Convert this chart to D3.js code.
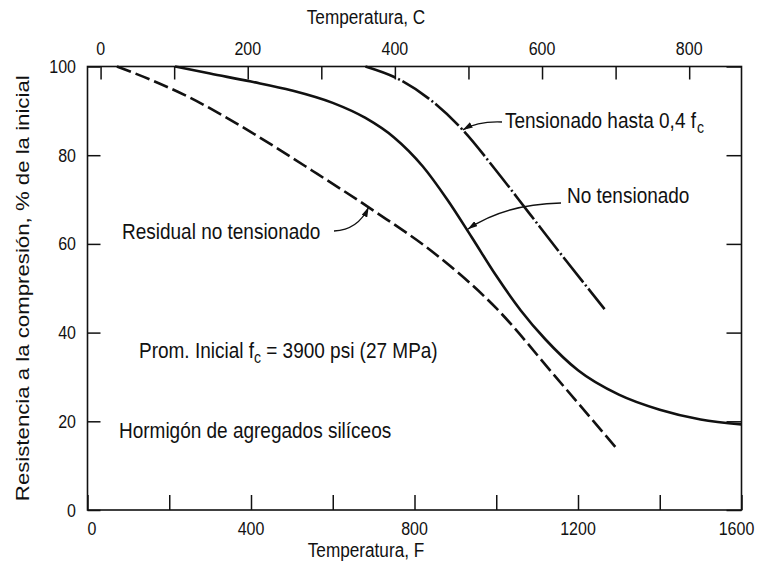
<!DOCTYPE html>
<html>
<head>
<meta charset="utf-8">
<script src="https://cdn.jsdelivr.net/npm/d3@7"></script>
<style>
  html, body { margin: 0; padding: 0; background: #fff; }
  svg { display: block; }
  text { font-family: "Liberation Sans", Arial, sans-serif; fill: #111; }
</style>
</head>
<body>
<svg id="chart" width="758" height="564"></svg>
<script>
// Temperature (°F) and remaining compressive strength (% of initial)
const residualF    = [72, 160, 250, 330, 400, 550, 700, 850, 1000, 1150, 1297];
const residualPct  = [100, 96.8, 93, 89, 85.2, 76.5, 67.5, 57.8, 45.5, 29.5, 13.6];

const unstressedF   = [214, 300, 400, 500, 600, 680, 750, 820, 880, 940, 1000, 1060, 1120, 1200, 1300, 1400, 1500, 1600];
const unstressedPct = [100, 98.4, 96.6, 94.6, 91.8, 88.4, 84, 77.5, 70, 61.5, 52.8, 45, 38.5, 31.5, 26, 22.6, 20.4, 19.3];

const stressedF   = [680, 760, 840, 920, 1000, 1080, 1160, 1265];
const stressedPct = [100, 97.2, 92.4, 85.5, 76.5, 67, 57.5, 45.3];

// axis ticks
const ticksF   = [0, 200, 400, 600, 800, 1000, 1200, 1400, 1600];
const labelsF  = [0, 400, 800, 1200, 1600];
const ticksC   = [0, 100, 200, 300, 400, 500, 600, 700, 800];
const labelsC  = [0, 200, 400, 600, 800];
const ticksPct = [0, 20, 40, 60, 80, 100];

const svg = d3.select("#chart");
const SY = 1.17;           // tall lettering of the figure
const plotL = 87.5, plotR = 741.5, plotT = 66.5, plotB = 510;

const x  = d3.scaleLinear().domain([0, 1600]).range([plotL, plotR]);
const xC = d3.scaleLinear().domain([(0 - 32) / 1.8, (1600 - 32) / 1.8]).range([plotL, plotR]);
const y  = d3.scaleLinear().domain([0, 100]).range([plotB, plotT]);

// text helper: anchor point at (px, py) baseline, stretched vertically
function label(px, py, size, anchor) {
  return svg.append("text")
    .attr("transform", `translate(${px},${py}) scale(1,${SY})`)
    .attr("font-size", size)
    .attr("text-anchor", anchor || "start");
}

// frame
svg.append("rect")
  .attr("x", plotL).attr("y", plotT)
  .attr("width", plotR - plotL).attr("height", plotB - plotT)
  .attr("fill", "none").attr("stroke", "#111").attr("stroke-width", 1.6);

function styleAxis(g) {
  g.select(".domain").remove();
  g.selectAll(".tick line").attr("stroke", "#111").attr("stroke-width", 1.5);
  g.selectAll(".tick text").remove();
}

svg.append("g").attr("transform", `translate(0,${plotB})`)
  .call(d3.axisBottom(x).tickValues(ticksF).tickSize(-15)).call(styleAxis);
svg.append("g").attr("transform", `translate(0,${plotT})`)
  .call(d3.axisTop(xC).tickValues(ticksC).tickSize(-13)).call(styleAxis);
svg.append("g").attr("transform", `translate(${plotL},0)`)
  .call(d3.axisLeft(y).tickValues(ticksPct).tickSize(-13)).call(styleAxis);
svg.append("g").attr("transform", `translate(${plotR},0)`)
  .call(d3.axisRight(y).tickValues(ticksPct).tickSize(-15)).call(styleAxis);

// tick labels
const TICK_FS = 16;
labelsF.forEach(v => {
  let px = x(v);
  if (v === 0) px += 4.5;
  if (v === 1600) px -= 5;
  label(px, 535, TICK_FS, "middle").text(v);
});
labelsC.forEach(v => label(xC(v), 55, TICK_FS, "middle").text(v));
ticksPct.forEach(v => label(76, y(v) + 6.5, TICK_FS, "end").text(v));

// axis titles
const TITLE_FS = 17.2;
label(366, 24, TITLE_FS, "middle").text("Temperatura, C");
label(366, 557, TITLE_FS, "middle").text("Temperatura, F");
svg.append("text")
  .attr("transform", `translate(29,${(plotT + plotB) / 2}) rotate(-90) scale(${SY},1)`)
  .attr("font-size", 19).attr("text-anchor", "middle")
  .text("Resistencia a la compresión, % de la inicial");

// curves
const pts = (fs, ps) => fs.map((f, i) => [f, ps[i]]);
const lineGen = d3.line().x(d => x(d[0])).y(d => y(d[1])).curve(d3.curveMonotoneX);

svg.append("path").attr("d", lineGen(pts(residualF, residualPct)))
  .attr("fill", "none").attr("stroke", "#111").attr("stroke-width", 2.6)
  .attr("stroke-dasharray", "15,5");
svg.append("path").attr("d", lineGen(pts(unstressedF, unstressedPct)))
  .attr("fill", "none").attr("stroke", "#111").attr("stroke-width", 2.6);
svg.append("path").attr("d", lineGen(pts(stressedF, stressedPct)))
  .attr("fill", "none").attr("stroke", "#111").attr("stroke-width", 2.6)
  .attr("stroke-dasharray", "32,3,2,3");

// arrowhead
svg.append("defs").append("marker")
  .attr("id", "arrow").attr("viewBox", "0 0 10 6")
  .attr("refX", 10).attr("refY", 3)
  .attr("markerWidth", 10).attr("markerHeight", 6)
  .attr("markerUnits", "userSpaceOnUse")
  .attr("orient", "auto")
  .append("path").attr("d", "M0,0 L10,3 L0,6 Z").attr("fill", "#111");

// leaders: start point, control point, tip on the curve (data units for tip)
function leader(sx, sy, cx, cy, tipF, tipPct) {
  svg.append("path")
    .attr("d", `M${sx},${sy} Q${cx},${cy} ${x(tipF)},${y(tipPct)}`)
    .attr("fill", "none").attr("stroke", "#111").attr("stroke-width", 1.3)
    .attr("marker-end", "url(#arrow)");
}
leader(502, 122, 478, 121, 918, 85.7);
leader(561, 203, 505, 204, 930, 63.3);
leader(334, 231, 358, 230, 688, 68.3);

// annotations
const ANN = 19;
const t1 = label(505, 128, ANN);
t1.append("tspan").text("Tensionado hasta 0,4 f");
t1.append("tspan").attr("dy", 4).attr("dx", 1).attr("font-size", 14).text("c");

label(567, 203, ANN).text("No tensionado");
label(122, 239, ANN).text("Residual no tensionado");

const t2 = label(139, 358, ANN);
t2.append("tspan").text("Prom. Inicial f");
t2.append("tspan").attr("dy", 4).attr("font-size", 14).text("c");
t2.append("tspan").attr("dy", -4).text(" = 3900 psi (27 MPa)");

label(119, 438, ANN).text("Hormigón de agregados silíceos");
</script>
</body>
</html>
